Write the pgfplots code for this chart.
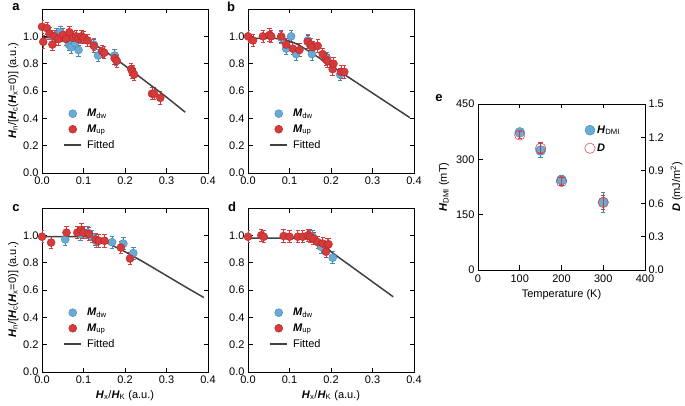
\documentclass[border=0pt]{standalone}
\usepackage{fontspec}
\setmainfont{Liberation Sans}
\usepackage{pgfplots}
\pgfplotsset{compat=1.18}
\definecolor{cblue}{RGB}{104,172,212}
\definecolor{cblueE}{RGB}{66,136,186}
\definecolor{cred}{RGB}{214,58,58}
\definecolor{credE}{RGB}{176,40,40}
\definecolor{cline}{RGB}{64,64,64}
\newcommand{\bi}[1]{\textbf{\textit{#1}}}
\newcommand{\fnt}{\fontsize{11}{13}\selectfont}
\pgfplotsset{
  base/.style={scale only axis, anchor=north west,
    tick align=inside, major tick length=4.5pt,
    axis line style={line width=0.8pt},
    every tick/.style={line width=0.8pt, black},
    font=\fnt,
    /pgf/number format/assume math mode=true,
    label style={font=\fnt},
  },
  panel/.style={base, width=166pt, height=164pt,
    xmin=0, xmax=0.4, ymin=0, ymax=1.2,
    xtick={0,0.1,0.2,0.3,0.4}, ytick={0,0.2,0.4,0.6,0.8,1.0},
    tick pos=both,
    xticklabel style={/pgf/number format/.cd, fixed, precision=1, fixed zerofill},
    yticklabel style={/pgf/number format/.cd, fixed, precision=1, fixed zerofill},
    ylabel style={yshift=-2pt},
    legend style={draw=none, fill=none, at={(0.11,0.415)}, anchor=north west,
      font=\fnt, row sep=2.5pt, /tikz/every odd column/.append style={column sep=3pt}},
    legend cell align=left,
  },
  dw/.style={only marks, mark=*, mark size=4pt,
    mark options={fill=cblue, draw=cblueE, line width=0.4pt},
    error bars/.cd, y dir=both, y fixed=0.045,
    error bar style={cblueE, line width=0.8pt}, error mark options={rotate=90, mark size=2.2pt, cblueE, line width=0.8pt}},
  up/.style={only marks, mark=*, mark size=4pt,
    mark options={fill=cred, draw=credE, line width=0.4pt},
    error bars/.cd, y dir=both, y fixed=0.045,
    error bar style={cred, line width=0.8pt}, error mark options={rotate=90, mark size=2.2pt, cred, line width=0.8pt}},
  fit/.style={no marks, color=cline, line width=1.5pt, smooth},
}
\newcommand{\ylab}{\bi{H}\textsubscript{n}/[\bi{H}\textsubscript{c}(\bi{H}\textsubscript{x}=0)] (a.u.)}
\newcommand{\xlab}{\bi{H}\textsubscript{x}/\bi{H}\textsubscript{K} (a.u.)}
\begin{document}
\begin{tikzpicture}
\useasboundingbox (0,0) rectangle (685pt,-406pt);
% ---------------- a
\begin{axis}[panel, at={(42pt,-9pt)}, ylabel={\ylab}]
\addplot+[dw] coordinates {
(0.025,1.00) (0.035,1.01) (0.045,1.03)
(0.065,0.94) (0.070,0.92) (0.080,0.95)
(0.088,0.90) (0.125,0.94) (0.135,0.86)
(0.175,0.86) (0.178,0.83)};
\addlegendentry{\bi{M}\textsubscript{dw}}
\addplot+[up] coordinates {
(0.000,1.07) (0.003,0.96) (0.012,1.06)
(0.018,1.02) (0.025,0.94) (0.030,1.00)
(0.040,0.98) (0.050,1.01) (0.058,0.98)
(0.066,1.03) (0.075,0.99) (0.082,1.00)
(0.088,0.98) (0.095,1.00) (0.100,0.99)
(0.110,0.97) (0.125,0.93) (0.145,0.89)
(0.150,0.88) (0.175,0.84) (0.180,0.82)
(0.215,0.76) (0.218,0.74) (0.222,0.72)
(0.265,0.58) (0.270,0.58) (0.285,0.55)};
\addlegendentry{\bi{M}\textsubscript{up}}
\addplot[fit] coordinates {(0,0.99) (0.04,0.99) (0.08,0.985) (0.1,0.975) (0.12,0.95) (0.15,0.895) (0.2,0.785) (0.25,0.67) (0.3,0.555) (0.345,0.445)};
\addlegendentry{Fitted}
\end{axis}
% ---------------- b
\begin{axis}[panel, at={(248pt,-9pt)}]
\addplot+[dw] coordinates {
(0.080,0.99) (0.104,1.00) (0.092,0.91)
(0.116,0.87) (0.144,0.97) (0.154,0.87)
(0.190,0.84) (0.222,0.72)};
\addlegendentry{\bi{M}\textsubscript{dw}}
\addplot+[up] coordinates {
(0.000,1.00) (0.012,0.97) (0.036,1.00)
(0.052,1.01) (0.056,1.00) (0.080,1.00)
(0.092,0.94) (0.108,0.91) (0.124,0.90)
(0.144,0.96) (0.152,0.94) (0.156,0.92)
(0.168,0.93) (0.180,0.87) (0.188,0.83)
(0.192,0.82) (0.204,0.76) (0.206,0.80)
(0.224,0.74) (0.232,0.74)};
\addlegendentry{\bi{M}\textsubscript{up}}
\addplot[fit] coordinates {(0,0.985) (0.06,0.985) (0.08,0.98) (0.1,0.965) (0.12,0.94) (0.15,0.885) (0.2,0.785) (0.25,0.685) (0.3,0.585) (0.35,0.485) (0.39,0.405)};
\addlegendentry{Fitted}
\end{axis}
% ---------------- c
\begin{axis}[panel, at={(42pt,-208pt)}, ylabel={\ylab}, xlabel={\xlab}]
\addplot+[dw] coordinates {
(0.056,0.97) (0.093,1.01) (0.110,1.02)
(0.121,0.99) (0.130,0.96) (0.169,0.95)
(0.196,0.94) (0.220,0.87)};
\addlegendentry{\bi{M}\textsubscript{dw}}
\addplot+[up] coordinates {
(0.000,0.99) (0.022,0.947) (0.059,1.02)
(0.085,1.02) (0.095,1.04) (0.100,1.02)
(0.113,1.01) (0.129,0.97) (0.137,0.96)
(0.151,0.96) (0.190,0.91) (0.212,0.83)};
\addlegendentry{\bi{M}\textsubscript{up}}
\addplot[fit] coordinates {(0,0.99) (0.1,0.99) (0.12,0.985) (0.14,0.97) (0.16,0.94) (0.2,0.88) (0.25,0.795) (0.3,0.705) (0.35,0.615) (0.39,0.545)};
\addlegendentry{Fitted}
\end{axis}
% ---------------- d
\begin{axis}[panel, at={(248pt,-208pt)}, xlabel={\xlab}]
\addplot+[dw] coordinates {
(0.148,1.00) (0.156,0.99) (0.176,0.916)
(0.204,0.836)};
\addlegendentry{\bi{M}\textsubscript{dw}}
\addplot+[up] coordinates {
(0.000,0.99) (0.032,1.00) (0.038,0.99)
(0.086,0.995) (0.100,0.99) (0.120,0.99)
(0.132,0.99) (0.144,1.00) (0.150,0.99)
(0.158,0.976) (0.168,0.95) (0.180,0.94)
(0.192,0.93) (0.188,0.88) (0.194,0.935)};
\addlegendentry{\bi{M}\textsubscript{up}}
\addplot[fit] coordinates {(0,0.98) (0.12,0.98) (0.14,0.975) (0.16,0.96) (0.17,0.95) (0.19,0.91) (0.2,0.88) (0.25,0.77) (0.3,0.66) (0.35,0.55)};
\addlegendentry{Fitted}
\end{axis}
% ---------------- e
\begin{axis}[base, at={(478pt,-104pt)}, width=167pt, height=166pt,
  xmin=0, xmax=400, ymin=0, ymax=450,
  xtick={0,100,200,300,400}, ytick={0,150,300,450},
  xtick pos=both, ytick pos=left,
  xticklabel style={yshift=-1.5pt},
  xlabel={Temperature (K)}, ylabel={\bi{H}\textsubscript{DMI} (mT)}]
\addplot+[only marks, mark=*, mark size=5pt,
  mark options={fill=cblue, draw=cblueE, line width=0.4pt},
  error bars/.cd, y dir=both, y explicit,
  error bar style={cblueE, line width=0.8pt}, error mark options={rotate=90, mark size=2.2pt, cblueE, line width=0.8pt}]
  coordinates {(100,373) +- (0,9) (150,324) +- (0,18) (200,244) +- (0,13) (300,184) +- (0,27)};
\end{axis}
\begin{axis}[base, at={(478pt,-104pt)}, width=167pt, height=166pt,
  xmin=0, xmax=400, ymin=0, ymax=1.5,
  hide x axis, ytick={0,0.3,0.6,0.9,1.2,1.5},
  ytick pos=right, yticklabel pos=right,
  yticklabel style={/pgf/number format/.cd, fixed, precision=1, fixed zerofill},
  ylabel={\bi{D} (mJ/m\textsuperscript{2})},
  legend style={draw=none, fill=none, at={(0.62,0.895)}, anchor=north west,
      font=\fnt, row sep=5pt},
  legend cell align=left]
\addlegendimage{only marks, mark=*, mark size=5pt, mark options={fill=cblue, draw=cblueE}}
\addlegendentry{\bi{H}\textsubscript{DMI}}
\addplot+[only marks, mark=o, mark size=5.2pt,
  mark options={draw=cred, line width=0.5pt, fill=none},
  error bars/.cd, y dir=both, y explicit,
  error bar style={cred, line width=0.8pt}, error mark options={rotate=90, mark size=2.2pt, cred, line width=0.8pt}]
  coordinates {(100,1.22) +- (0,0.03) (150,1.10) +- (0,0.05) (200,0.80) +- (0,0.04) (300,0.61) +- (0,0.06)};
\addlegendentry{\bi{D}}
\end{axis}
% panel letters
\node[font=\bfseries\fontsize{13}{13}\selectfont] at (16pt,-7pt) {a};
\node[font=\bfseries\fontsize{13}{13}\selectfont] at (231pt,-7pt) {b};
\node[font=\bfseries\fontsize{13}{13}\selectfont] at (16pt,-208pt) {c};
\node[font=\bfseries\fontsize{13}{13}\selectfont] at (232pt,-207pt) {d};
\node[font=\bfseries\fontsize{13}{13}\selectfont] at (439pt,-98pt) {e};
\end{tikzpicture}
\end{document}
